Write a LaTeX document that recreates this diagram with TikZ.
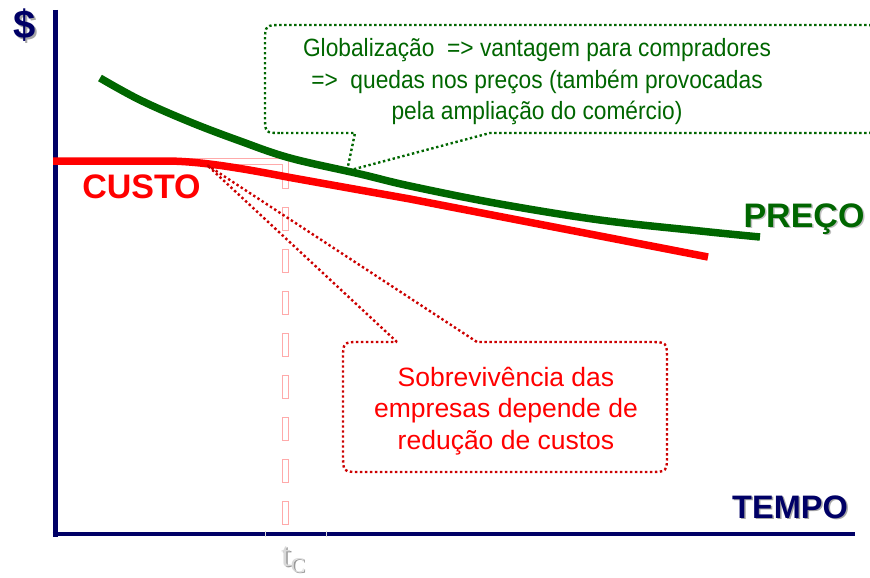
\documentclass[tikz,border=0pt]{standalone}
\usepackage{fontspec}
\setmainfont{Liberation Sans}
\newfontfamily\serifface{Liberation Serif}
\newfontfamily\narrowsans[FakeStretch=0.91]{Liberation Sans}
\definecolor{navyax}{RGB}{0,0,102}
\definecolor{dgreen}{RGB}{0,102,0}
\definecolor{pinkline}{RGB}{255,170,170}
\definecolor{dotred}{RGB}{204,0,0}
\newcommand\shadowtext[2]{\makebox[0pt][l]{\kern1.5pt\raisebox{-1.5pt}{\textcolor{#1}{#2}}}#2}
\begin{document}
\begin{tikzpicture}[x=1pt,y=-1pt,
  axisline/.style={draw=navyax, line width=5pt},
  curveline/.style={line width=7.5pt, line join=round},
  calloutline/.style={line width=2.4pt, dash pattern=on 2.4pt off 2.6pt, line join=round},
  guide/.style={draw=pinkline, line width=1pt},
  biglabel/.style={inner sep=0pt, font=\fontsize{34}{34}\selectfont\bfseries},
  tick/.style={draw=white!75!gray, line width=1pt}]
\useasboundingbox (0,0) rectangle (870,578);
\clip (0,0) rectangle (870,578);

% pink guide (L shape + hollow dashes)
\draw[guide] (55,158) -- (288,158) -- (288,188) -- (282,188) -- (282,164.5) -- (55,164.5);
\foreach \yy in {207,249,...,501} \draw[guide] (282,\yy) rectangle (288,\yy+23);

% axes
\coordinate (ytop) at (55,10);
\coordinate (origin) at (55,534);
\coordinate (xend) at (855,534);
\draw[axisline] (ytop) -- (55,536.5);
\draw[axisline, line width=4.5pt] (52.5,534) -- (xend);
\draw[tick] (265,531) -- (265,537);
\draw[tick] (326,531) -- (326,537);

% curves
\draw[curveline, draw=dgreen] plot[smooth, tension=0.6] coordinates {(100,78) (140,100) (190,122) (240,141) (290,158) (360,174) (410,186) (500,204) (600,220) (700,231) (760,237)};
\draw[curveline, draw=red] (53,161) -- (165,161) .. controls (200,161) and (240,168) .. (290,177.5) -- (410,199) -- (708,257);

% top callout (green, dotted)
\coordinate (gtip) at (347,171);
\draw[calloutline, draw=dgreen] (281,133) -- (355,133) -- (gtip) -- (490,133) -- (862,133) .. controls (880,133) .. (880,115) -- (880,43) .. controls (880,25) .. (862,25) -- (283,25) .. controls (265,25) .. (265,43) -- (265,115) .. controls (265,133) .. (281,133) -- cycle;

% bottom callout (red, dotted)
\coordinate (rtip) at (207,165);
\draw[calloutline, draw=dotred] (397,342) -- (rtip) -- (477,342) -- (649,342) .. controls (667,342) .. (667,360) -- (667,454) .. controls (667,472) .. (649,472) -- (361,472) .. controls (343,472) .. (343,454) -- (343,360) .. controls (343,342) .. (361,342) -- cycle;

% texts
\node[align=center, inner sep=0pt, text=dgreen, font=\narrowsans\fontsize{25}{31.5}\selectfont] (glob) at (537,82) {Globalização~ => vantagem para compradores\\=>~ quedas nos preços (também provocadas\\pela ampliação do comércio)};
\node[align=center, inner sep=0pt, text=red, font=\fontsize{26.5}{31.5}\selectfont] (surv) at (506,411) {Sobrevivência das\\empresas depende de\\redução de custos};

\node[biglabel, anchor=base, text=navyax, font=\fontsize{40}{40}\selectfont\bfseries] (dollar) at (25,39) {\shadowtext{black!35}{\$}};
\node[biglabel, anchor=base, text=red] (custo) at (141.5,198) {CUSTO};
\node[biglabel, anchor=base, text=dgreen] (preco) at (804,227) {\shadowtext{black!25}{PREÇO}};
\node[biglabel, anchor=base, text=navyax, font=\fontsize{32.5}{32.5}\selectfont\bfseries] (tempo) at (790,518) {\shadowtext{black!35}{TEMPO}};
\node[anchor=base west, inner sep=0pt, text=black!15, font=\serifface\fontsize{35}{35}\selectfont] (tc) at (281,566) {\shadowtext{black!40}{t}\raisebox{-6pt}{\fontsize{21}{21}\selectfont\shadowtext{black!40}{C}}};
\end{tikzpicture}
\end{document}
